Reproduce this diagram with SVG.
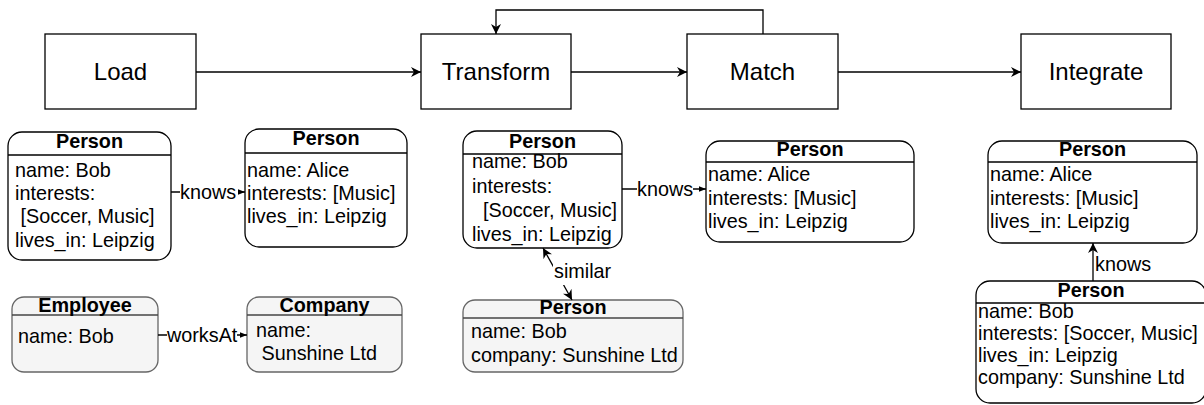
<svg xmlns="http://www.w3.org/2000/svg" width="1204" height="405" viewBox="0 0 1204 405">
<defs>
<marker id="big" viewBox="0 0 10 10" refX="10" refY="5" markerWidth="10" markerHeight="10" markerUnits="userSpaceOnUse" orient="auto">
<path d="M0,0 L10,5 L0,10 L3,5 Z" fill="#000"/>
</marker>
<marker id="small" viewBox="0 0 10 10" refX="10" refY="5" markerWidth="7" markerHeight="7" markerUnits="userSpaceOnUse" orient="auto">
<path d="M0,1 L10,5 L0,9 Z" fill="#000"/>
</marker>
<marker id="open" viewBox="0 0 10 10" refX="10" refY="5" markerWidth="10" markerHeight="10" markerUnits="userSpaceOnUse" orient="auto-start-reverse">
<path d="M0,0 L10,5 L0,10 L3,5 Z" fill="#000"/>
</marker>
</defs>
<style>
.step{fill:#fff;stroke:#000;stroke-width:1.3}
.stepT{font-family:"Liberation Sans",Arial,sans-serif;font-size:24px;text-anchor:middle;fill:#000}
.ent{fill:#fff;stroke:#000;stroke-width:1.3}
.entG{fill:#f5f5f5;stroke:#666;stroke-width:1.3}
.hl{stroke:#000;stroke-width:1.3}
.hlG{stroke:#444;stroke-width:1.3}
.t{font-family:"Liberation Sans",Arial,sans-serif;font-size:19.8px;fill:#000}
.h{font-family:"Liberation Sans",Arial,sans-serif;font-size:19.8px;font-weight:bold;text-anchor:middle;fill:#000}
.ln{fill:none;stroke:#000;stroke-width:1.3}
.lbl{font-family:"Liberation Sans",Arial,sans-serif;font-size:19.8px;fill:#000}
</style>

<g id="load"><rect class="step" x="45" y="34" width="151" height="75"/><text class="stepT" x="120.5" y="80">Load</text></g>
<g id="transform"><rect class="step" x="421" y="34" width="150" height="75"/><text class="stepT" x="496" y="80">Transform</text></g>
<g id="match"><rect class="step" x="687" y="34" width="151" height="75"/><text class="stepT" x="762.5" y="80">Match</text></g>
<g id="integrate"><rect class="step" x="1021" y="34" width="150" height="75"/><text class="stepT" x="1096" y="80">Integrate</text></g>

<g id="load-bob">
<rect class="ent" x="8" y="132" width="163" height="128" rx="14"/>
<line class="hl" x1="8" y1="155" x2="171" y2="155"/>
<text class="h" x="89.5" y="148">Person</text>
<text class="t" x="15" y="177">name: Bob</text>
<text class="t" x="15" y="200">interests:</text>
<text class="t" x="15" y="223" xml:space="preserve"> [Soccer, Music]</text>
<text class="t" x="15" y="247">lives_in: Leipzig</text>
</g>
<g id="load-alice">
<rect class="ent" x="245" y="129" width="162" height="118" rx="14"/>
<line class="hl" x1="245" y1="153" x2="407" y2="153"/>
<text class="h" x="326" y="145">Person</text>
<text class="t" x="247" y="177">name: Alice</text>
<text class="t" x="247" y="200">interests: [Music]</text>
<text class="t" x="247" y="223">lives_in: Leipzig</text>
</g>
<g id="employee">
<rect class="entG" x="12" y="297" width="146" height="75" rx="12"/>
<line class="hlG" x1="12" y1="315" x2="158" y2="315"/>
<text class="h" x="85" y="312">Employee</text>
<text class="t" x="18" y="343">name: Bob</text>
</g>
<g id="company">
<rect class="entG" x="247" y="297" width="155" height="75" rx="12"/>
<line class="hlG" x1="247" y1="315" x2="402" y2="315"/>
<text class="h" x="324.5" y="312">Company</text>
<text class="t" x="256" y="337">name:</text>
<text class="t" x="256" y="360" xml:space="preserve"> Sunshine Ltd</text>
</g>

<g id="tr-bob">
<rect class="ent" x="463" y="131" width="159" height="117" rx="14"/>
<line class="hl" x1="463" y1="154" x2="622" y2="154"/>
<text class="h" x="542.5" y="148">Person</text>
<text class="t" x="472" y="168">name: Bob</text>
<text class="t" x="472" y="193">interests:</text>
<text class="t" x="472" y="217" xml:space="preserve">  [Soccer, Music]</text>
<text class="t" x="472" y="241">lives_in: Leipzig</text>
</g>
<g id="tr-alice">
<rect class="ent" x="706" y="141" width="208" height="101" rx="14"/>
<line class="hl" x1="706" y1="162" x2="914" y2="162"/>
<text class="h" x="810" y="156">Person</text>
<text class="t" x="708" y="181">name: Alice</text>
<text class="t" x="708" y="205">interests: [Music]</text>
<text class="t" x="708" y="228">lives_in: Leipzig</text>
</g>
<g id="tr-bob2">
<rect class="entG" x="463" y="300" width="220" height="72" rx="12"/>
<line class="hlG" x1="463" y1="318" x2="683" y2="318"/>
<text class="h" x="573" y="314">Person</text>
<text class="t" x="471" y="338">name: Bob</text>
<text class="t" x="471" y="362">company: Sunshine Ltd</text>
</g>

<g id="int-alice">
<rect class="ent" x="988" y="141" width="209" height="102" rx="14"/>
<line class="hl" x1="988" y1="162" x2="1197" y2="162"/>
<text class="h" x="1092.5" y="156">Person</text>
<text class="t" x="990" y="181">name: Alice</text>
<text class="t" x="990" y="205">interests: [Music]</text>
<text class="t" x="990" y="228">lives_in: Leipzig</text>
</g>
<g id="int-bob">
<rect class="ent" x="976" y="281" width="230" height="122" rx="14"/>
<line class="hl" x1="976" y1="303" x2="1206" y2="303"/>
<text class="h" x="1091" y="297">Person</text>
<text class="t" x="978" y="318">name: Bob</text>
<text class="t" x="978" y="340">interests: [Soccer, Music]</text>
<text class="t" x="978" y="362">lives_in: Leipzig</text>
<text class="t" x="978" y="384">company: Sunshine Ltd</text>
</g>

<g id="connectors">
<line class="ln" x1="196" y1="72" x2="421" y2="72" marker-end="url(#big)"/>
<line class="ln" x1="571" y1="72" x2="687" y2="72" marker-end="url(#big)"/>
<line class="ln" x1="838" y1="72" x2="1021" y2="72" marker-end="url(#big)"/>
<polyline class="ln" points="763,34 763,10 496,10 496,34" marker-end="url(#big)"/>

<line class="ln" x1="171" y1="192" x2="245" y2="192" marker-end="url(#small)"/>
<rect x="180" y="180" width="58" height="24" fill="#fff"/>
<text class="lbl" x="180" y="199">knows</text>

<line class="ln" x1="158" y1="335" x2="247" y2="335" marker-end="url(#small)"/>
<rect x="167" y="323" width="70" height="24" fill="#fff"/>
<text class="lbl" x="167" y="342">worksAt</text>

<line class="ln" x1="622" y1="189" x2="706" y2="189" marker-end="url(#small)"/>
<rect x="637" y="177" width="56" height="24" fill="#fff"/>
<text class="lbl" x="637" y="196">knows</text>

<line class="ln" x1="543" y1="248" x2="572" y2="300" marker-start="url(#open)" marker-end="url(#open)"/>
<rect x="553" y="261" width="60" height="24" fill="#fff"/>
<text class="lbl" x="554" y="278">similar</text>

<line class="ln" x1="1093" y1="281" x2="1093" y2="243" marker-end="url(#big)"/>
<text class="lbl" x="1095" y="271">knows</text>
</g>
</svg>
